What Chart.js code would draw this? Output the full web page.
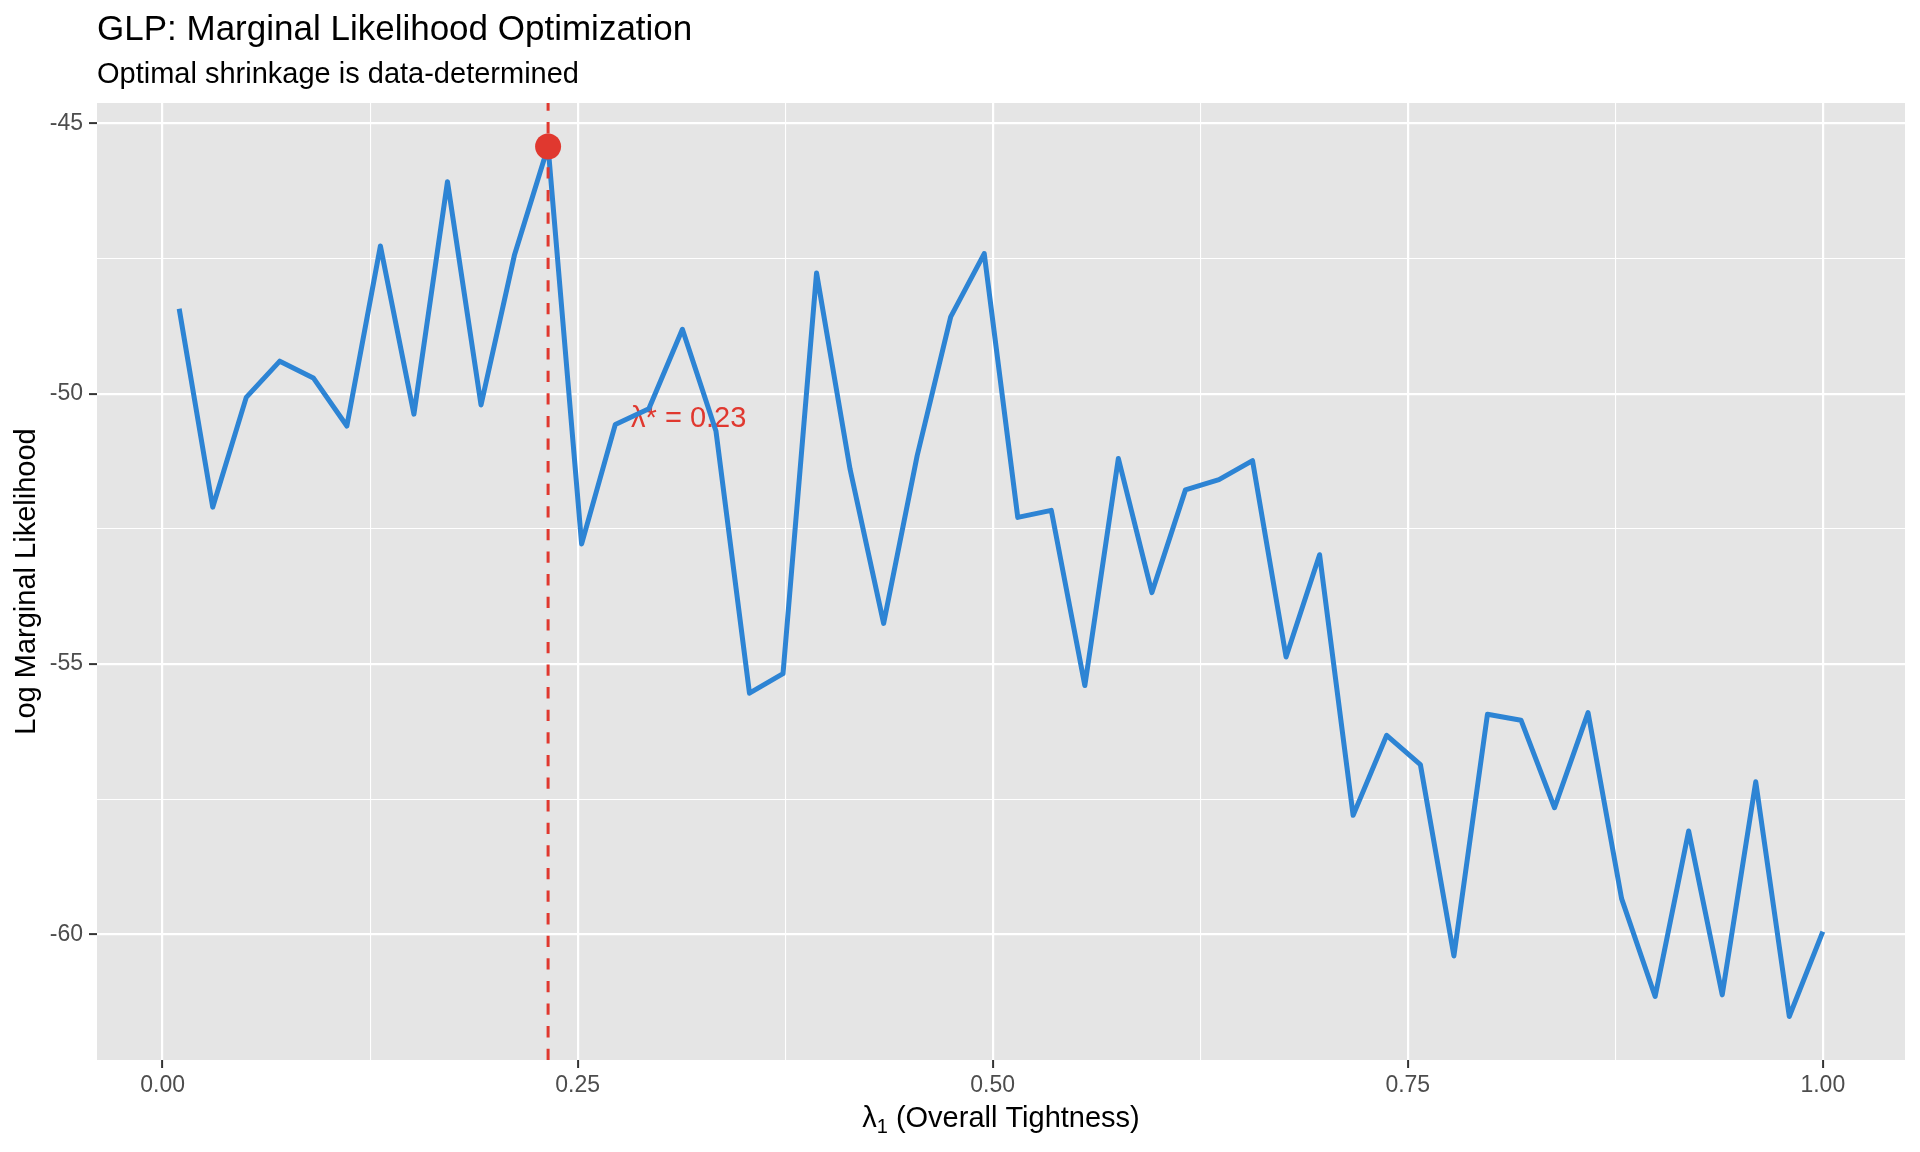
<!DOCTYPE html>
<html>
<head>
<meta charset="utf-8">
<title>GLP: Marginal Likelihood Optimization</title>
<script src="https://cdn.jsdelivr.net/npm/chart.js@4.4.1/dist/chart.umd.min.js"></script>
<style>
  html, body { margin: 0; padding: 0; background: #ffffff; }
  canvas { display: block; }
</style>
</head>
<body>
<canvas id="chart" width="1920" height="1152"></canvas>
<script>
// λ1 grid (50 steps from 0.01 to 1) and the log marginal likelihood
const lambdaGrid = [
  0.0100, 0.0302, 0.0504, 0.0706, 0.0908, 0.1110, 0.1312, 0.1514, 0.1716, 0.1918,
  0.2120, 0.2322, 0.2524, 0.2727, 0.2929, 0.3131, 0.3333, 0.3535, 0.3737, 0.3939,
  0.4141, 0.4343, 0.4545, 0.4747, 0.4949, 0.5151, 0.5353, 0.5555, 0.5757, 0.5959,
  0.6161, 0.6363, 0.6565, 0.6767, 0.6969, 0.7171, 0.7373, 0.7576, 0.7778, 0.7980,
  0.8182, 0.8384, 0.8586, 0.8788, 0.8990, 0.9192, 0.9394, 0.9596, 0.9798, 1.0000,
];
const logML = [
  -48.43, -52.10, -50.07, -49.40, -49.71, -50.60, -47.27, -50.38, -46.08, -50.21,
  -47.43, -45.43, -52.78, -50.57, -50.28, -48.81, -50.69, -55.54, -55.18, -47.77,
  -51.40, -54.25, -51.15, -48.58, -47.41, -52.29, -52.16, -55.40, -51.20, -53.68,
  -51.78, -51.59, -51.24, -54.87, -52.98, -57.80, -56.32, -56.86, -60.40, -55.93,
  -56.04, -57.66, -55.90, -59.34, -61.15, -58.09, -61.12, -57.18, -61.52, -59.95,
];

const xTickValues = [0, 0.125, 0.25, 0.375, 0.5, 0.625, 0.75, 0.875, 1];
const xTickLabels = ['0.00', '', '0.25', '', '0.50', '', '0.75', '', '1.00'];
const yTickValues = [-60, -57.5, -55, -52.5, -50, -47.5, -45];
const yTickLabels = ['-60', '', '-55', '', '-50', '', '-45'];

const titleText = 'GLP: Marginal Likelihood Optimization';
const subtitleText = 'Optimal shrinkage is data-determined';
const yTitleText = 'Log Marginal Likelihood';
const xTitleParts = ['λ', '1', ' (Overall Tightness)'];
const optLabel = 'λ* = 0.23';
const labelOffset = { x: 0.05, y: -5 };

const BLUE = '#2D84D4';
const RED = '#E0382F';
const FONT = '"Liberation Sans", Arial, Helvetica, sans-serif';

// optimum = argmax of the curve
const optIdx = logML.indexOf(Math.max(...logML));
const optX = lambdaGrid[optIdx];
const optY = logML[optIdx];

// ggplot-like 5% expansion of the data range
function expand(arr) {
  const lo = Math.min(...arr), hi = Math.max(...arr), r = hi - lo;
  return [lo - 0.05 * r, hi + 0.05 * r];
}
const [xMin, xMax] = expand(lambdaGrid);
const [yMin, yMax] = expand(logML);

const isMajor = (ticks, labels, v) => labels[ticks.indexOf(v)] !== '';

const panelBg = {
  id: 'panelBg',
  beforeDraw(chart) {
    const { ctx, chartArea: a } = chart;
    ctx.save();
    ctx.fillStyle = '#ffffff';
    ctx.fillRect(0, 0, chart.width, chart.height);
    ctx.fillStyle = '#E5E5E5';
    ctx.fillRect(a.left, a.top, a.right - a.left, a.bottom - a.top);
    ctx.restore();
  },
};

// text label sits under the line (the curve covers its "." in the picture)
const optText = {
  id: 'optText',
  beforeDatasetsDraw(chart) {
    const { ctx, scales: { x, y } } = chart;
    ctx.save();
    ctx.font = `29px ${FONT}`;
    ctx.fillStyle = RED;
    ctx.textAlign = 'left';
    ctx.textBaseline = 'alphabetic';
    ctx.fillText(optLabel, x.getPixelForValue(optX + labelOffset.x), y.getPixelForValue(optY + labelOffset.y) + 10);
    ctx.restore();
  },
};

const titles = {
  id: 'titles',
  afterDraw(chart) {
    const { ctx, chartArea: a } = chart;
    ctx.save();
    ctx.fillStyle = '#000000';
    ctx.textAlign = 'left';
    ctx.textBaseline = 'alphabetic';
    ctx.font = `35px ${FONT}`;
    ctx.fillText(titleText, a.left, 40);
    ctx.font = `29px ${FONT}`;
    ctx.fillText(subtitleText, a.left, 83);

    // x axis title with subscript
    ctx.font = `29px ${FONT}`;
    const w0 = ctx.measureText(xTitleParts[0]).width;
    const w2 = ctx.measureText(xTitleParts[2]).width;
    ctx.font = `20px ${FONT}`;
    const w1 = ctx.measureText(xTitleParts[1]).width;
    let tx = (a.left + a.right) / 2 - (w0 + w1 + w2) / 2;
    const base = 1127;
    ctx.font = `29px ${FONT}`;
    ctx.fillText(xTitleParts[0], tx, base);
    tx += w0;
    ctx.font = `20px ${FONT}`;
    ctx.fillText(xTitleParts[1], tx, base + 6);
    tx += w1;
    ctx.font = `29px ${FONT}`;
    ctx.fillText(xTitleParts[2], tx, base);

    // y axis title
    ctx.translate(27, (a.top + a.bottom) / 2);
    ctx.rotate(-Math.PI / 2);
    ctx.textAlign = 'center';
    ctx.textBaseline = 'middle';
    ctx.fillText(yTitleText, 0, 0);
    ctx.restore();
  },
};

new Chart(document.getElementById('chart'), {
  type: 'line',
  data: {
    datasets: [
      {
        label: 'optimum',
        data: [{ x: optX, y: optY }],
        showLine: false,
        pointRadius: 13,
        pointBackgroundColor: RED,
        pointBorderWidth: 0,
      },
      {
        label: 'vline',
        data: [{ x: optX, y: yMin }, { x: optX, y: yMax }],
        borderColor: RED,
        borderWidth: 3,
        borderDash: [11.3, 11.3],
        borderCapStyle: 'butt',
        pointRadius: 0,
      },
      {
        label: 'log ML',
        data: lambdaGrid.map((v, i) => ({ x: v, y: logML[i] })),
        borderColor: BLUE,
        borderWidth: 5,
        borderJoinStyle: 'round',
        borderCapStyle: 'butt',
        tension: 0,
        pointRadius: 0,
      },
    ],
  },
  options: {
    responsive: false,
    animation: false,
    devicePixelRatio: 1,
    layout: { padding: { top: 103, right: 15, left: 0, bottom: 0 } },
    plugins: { legend: { display: false }, tooltip: { enabled: false }, title: { display: false } },
    scales: {
      x: {
        type: 'linear',
        min: xMin,
        max: xMax,
        afterBuildTicks: (s) => { s.ticks = xTickValues.map((v) => ({ value: v })); },
        afterFit: (s) => { s.height = 92; },
        border: { display: false },
        grid: {
          color: '#ffffff',
          lineWidth: (c) => (isMajor(xTickValues, xTickLabels, c.tick.value) ? 2.2 : 1.1),
          tickColor: (c) => (isMajor(xTickValues, xTickLabels, c.tick.value) ? '#333333' : 'rgba(0,0,0,0)'),
          tickLength: 8,
          tickWidth: 2,
        },
        ticks: {
          autoSkip: false,
          maxRotation: 0,
          padding: 4,
          color: '#4D4D4D',
          font: { family: FONT, size: 23 },
          callback: (v) => xTickLabels[xTickValues.indexOf(v)],
        },
      },
      y: {
        type: 'linear',
        min: yMin,
        max: yMax,
        afterBuildTicks: (s) => { s.ticks = yTickValues.map((v) => ({ value: v })); },
        afterFit: (s) => { s.width = 97; },
        border: { display: false },
        grid: {
          color: '#ffffff',
          lineWidth: (c) => (isMajor(yTickValues, yTickLabels, c.tick.value) ? 2.2 : 1.1),
          tickColor: (c) => (isMajor(yTickValues, yTickLabels, c.tick.value) ? '#333333' : 'rgba(0,0,0,0)'),
          tickLength: 8,
          tickWidth: 2,
        },
        ticks: {
          autoSkip: false,
          padding: 6,
          color: '#4D4D4D',
          font: { family: FONT, size: 23 },
          callback: (v) => yTickLabels[yTickValues.indexOf(v)],
        },
      },
    },
  },
  plugins: [panelBg, optText, titles],
});
</script>
</body>
</html>
